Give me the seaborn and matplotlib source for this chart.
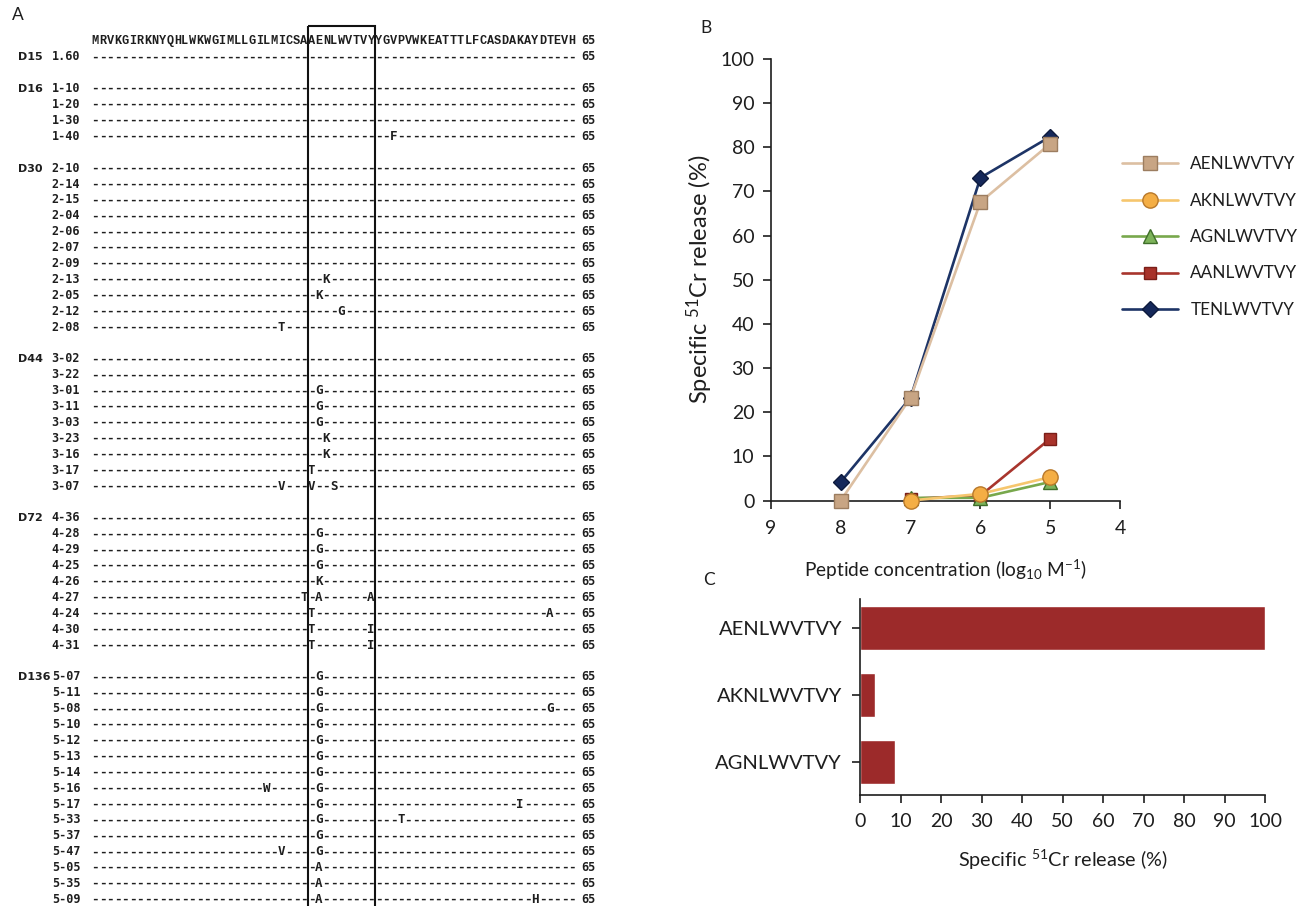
import numpy as np
import pandas as pd
import seaborn as sns
import matplotlib.pyplot as plt
from matplotlib.patches import Rectangle

# ---- panel A: env sequence alignment ----
ref_seq = "MRVKGIRKNYQHLWKWGIMLLGILMICSAAENLWVTVYYGVPVWKEATTTLFCASDAKAYDTEVH"
epitope_start = 30
epitope_end = 38
group_names = ["D15", "D16", "D30", "D44", "D72", "D136"]
group_clones = [
    ["1.60"],
    ["1-10", "1-20", "1-30", "1-40"],
    ["2-10", "2-14", "2-15", "2-04", "2-06", "2-07", "2-09", "2-13", "2-05", "2-12", "2-08"],
    ["3-02", "3-22", "3-01", "3-11", "3-03", "3-23", "3-16", "3-17", "3-07"],
    ["4-36", "4-28", "4-29", "4-25", "4-26", "4-27", "4-24", "4-30", "4-31"],
    ["5-07", "5-11", "5-08", "5-10", "5-12", "5-13", "5-14", "5-16", "5-17", "5-33",
     "5-37", "5-47", "5-05", "5-35", "5-09"],
]
# clone -> list of (residue position, amino acid)
mutations = {
    "1-40": [(41, "F")],
    "2-13": [(32, "K")], "2-05": [(31, "K")], "2-12": [(34, "G")], "2-08": [(26, "T")],
    "3-01": [(31, "G")], "3-11": [(31, "G")], "3-03": [(31, "G")],
    "3-23": [(32, "K")], "3-16": [(32, "K")], "3-17": [(30, "T")],
    "3-07": [(26, "V"), (30, "V"), (33, "S")],
    "4-28": [(31, "G")], "4-29": [(31, "G")], "4-25": [(31, "G")], "4-26": [(31, "K")],
    "4-27": [(29, "T"), (31, "A"), (38, "A")],
    "4-24": [(30, "T"), (62, "A")],
    "4-30": [(30, "T"), (38, "I")], "4-31": [(30, "T"), (38, "I")],
    "5-07": [(31, "G")], "5-11": [(31, "G")], "5-08": [(31, "G"), (62, "G")],
    "5-10": [(31, "G")], "5-12": [(31, "G")], "5-13": [(31, "G")], "5-14": [(31, "G")],
    "5-16": [(24, "W"), (31, "G")], "5-17": [(31, "G"), (58, "I")],
    "5-33": [(31, "G"), (42, "T")], "5-37": [(31, "G")], "5-47": [(26, "V"), (31, "G")],
    "5-05": [(31, "A")], "5-35": [(31, "A")], "5-09": [(31, "A"), (60, "H")],
}

# ---- panel B: peptide titration ----
conc_high = [8, 7, 6, 5]
conc_low = [7, 6, 5]
peptides_b = ["AENLWVTVY", "AKNLWVTVY", "AGNLWVTVY", "AANLWVTVY", "TENLWVTVY"]
release_aenl = [0.0, 23.3, 67.6, 80.8]
release_aknl = [0.0, 1.5, 5.3]
release_agnl = [0.6, 0.6, 4.2]
release_aanl = [0.4, 1.1, 14.0]
release_tenl = [4.2, 23.3, 73.1, 82.4]

# ---- panel C: single concentration ----
peptides_c = ["AENLWVTVY", "AKNLWVTVY", "AGNLWVTVY"]
release_c = [100, 3.8, 8.6]

sns.set_style("ticks")
plt.rcParams["font.family"] = ["Lato", "DejaVu Sans"]
plt.rcParams["mathtext.default"] = "regular"
ink = "#1e1e1e"

fig = plt.figure(figsize=(12.99, 9.06), dpi=100)

# panel A drawn in residue / line units
ax_a = fig.add_axes([0, 0, 600 / 1299, 1])
ax_a.set_xlim(-11.8, 68.73)
ax_a.set_ylim(54.47, -2.516)
ax_a.axis("off")

base = 0.28
for i, ch in enumerate(ref_seq):
    ax_a.text(i + 1, base, ch, ha="center", va="baseline", fontsize=8.6,
              family="Liberation Mono", weight="bold", color=ink)
ax_a.text(66.2, base, "65", ha="left", va="baseline", fontsize=8.5,
          family="DejaVu Sans Mono", weight="bold", color=ink)

line = 1
for g, clones in zip(group_names, group_clones):
    for j, c in enumerate(clones):
        y = line + base
        if j == 0:
            ax_a.text(-9.39, y, g, ha="left", va="baseline", fontsize=8,
                      family="DejaVu Sans", weight="bold", color=ink)
        ax_a.text(-4.86, y, c, ha="left", va="baseline", fontsize=8.5,
                  family="DejaVu Sans Mono", weight="bold", color=ink)
        row = ["-"] * len(ref_seq)
        for pos, aa in mutations.get(c, []):
            row[pos - 1] = aa
        for i, ch in enumerate(row):
            ax_a.text(i + 1, y, ch, ha="center", va="baseline", fontsize=9,
                      family="DejaVu Sans Mono", weight="bold", color=ink)
        ax_a.text(66.2, y, "65", ha="left", va="baseline", fontsize=8.5,
                  family="DejaVu Sans Mono", weight="bold", color=ink)
        line += 1
    line += 1

ax_a.add_patch(Rectangle((epitope_start - 0.5, -0.88), epitope_end - epitope_start + 1, 70,
                         fill=False, lw=1.5, edgecolor="#111111"))

# panel B
ax_b = fig.add_axes([771 / 1299, 1 - 500.5 / 906, 349 / 1299, 441.5 / 906])
series_b = [
    (conc_high, release_aenl, "#dcbfa2", "s", "#c8a584", "#9c7d60", 10, 3),
    (conc_low, release_aknl, "#f6c66e", "o", "#f4ae45", "#b8782a", 11, 6),
    (conc_low, release_agnl, "#78a84c", "^", "#7db35a", "#3f6e2a", 10, 5),
    (conc_low, release_aanl, "#a8352d", "s", "#a8322a", "#7a1e18", 9, 4),
    (conc_high, release_tenl, "#1d3466", "D", "#15285a", "#0d1a3c", 8, 2),
]
for name, (xs, ys, lc, mk, fc, ec, ms, z) in zip(peptides_b, series_b):
    sns.lineplot(x=xs, y=ys, ax=ax_b, color=lc, marker=mk, markersize=ms,
                 markerfacecolor=fc, markeredgecolor=ec, markeredgewidth=1.0,
                 lw=1.9, label=name, zorder=z, clip_on=False)

ax_b.set_xlim(9, 4)
ax_b.set_ylim(0, 100)
ax_b.set_xticks([9, 8, 7, 6, 5, 4])
ax_b.set_yticks(np.arange(0, 101, 10))
sns.despine(ax=ax_b)
ax_b.tick_params(labelsize=14, length=6, width=1.2, colors=ink)
ax_b.tick_params(axis="x", pad=8)
ax_b.tick_params(axis="y", pad=6)
for s in ["left", "bottom"]:
    ax_b.spines[s].set_linewidth(1.2)
    ax_b.spines[s].set_color(ink)
ax_b.set_xlabel("Peptide concentration (log$_{10}$ M$^{-1}$)", fontsize=13.8, color=ink, labelpad=15)
ax_b.set_ylabel("Specific $^{51}$Cr release (%)", fontsize=17, color=ink, labelpad=4)
ax_b.legend(loc="upper left", bbox_to_anchor=(1122 / 1299, 1 - 156 / 906),
            bbox_transform=fig.transFigure, frameon=False, borderpad=0, borderaxespad=0,
            handlelength=3.3, handletextpad=0.7, labelspacing=1.2, fontsize=12.3,
            labelcolor=ink)

# panel C
ax_c = fig.add_axes([860 / 1299, 1 - 795 / 906, 405 / 1299, 196.4 / 906])
sns.barplot(x=release_c, y=peptides_c, orient="h", color="#9c2a2a", saturation=1,
            width=0.65, ax=ax_c)
ax_c.set_xlim(0, 100)
ax_c.set_ylim(2.49, -0.44)
ax_c.set_xticks(np.arange(0, 101, 10))
sns.despine(ax=ax_c)
ax_c.tick_params(labelsize=14, length=6, width=1.2, colors=ink, pad=7)
ax_c.tick_params(axis="y", labelsize=14.5)
for s in ["left", "bottom"]:
    ax_c.spines[s].set_linewidth(1.2)
    ax_c.spines[s].set_color(ink)
ax_c.set_xlabel("Specific $^{51}$Cr release (%)", fontsize=14.3, color=ink, labelpad=13)
ax_c.set_ylabel("")

fig.text(12 / 1299, 1 - 15 / 906, "A", fontsize=12.5, va="center", color=ink)
fig.text(700 / 1299, 1 - 28 / 906, "B", fontsize=12.5, va="center", color=ink)
fig.text(703 / 1299, 1 - 580 / 906, "C", fontsize=12.5, va="center", color=ink)

fig.savefig("out.png", dpi=100)
